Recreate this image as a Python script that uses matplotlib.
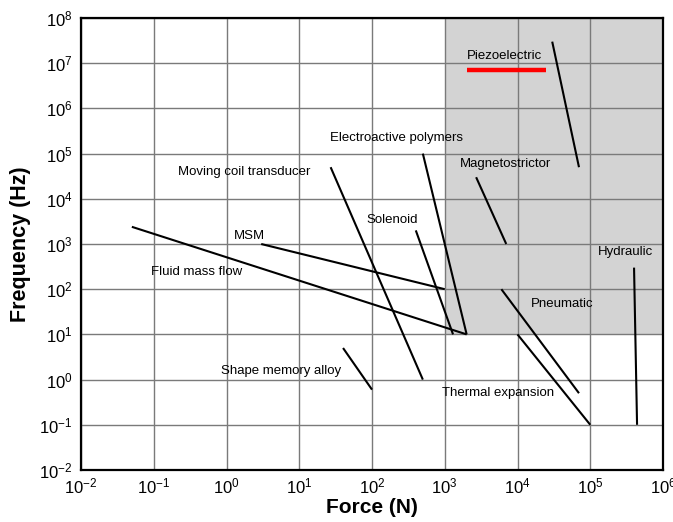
import numpy as np
import matplotlib
matplotlib.use('Agg')
import matplotlib.pyplot as plt

plt.rcParams['font.family'] = ['Liberation Sans', 'DejaVu Sans']
plt.rcParams['mathtext.default'] = 'regular'
plt.rcParams['axes.unicode_minus'] = False

# actuator ranges: force (N) and frequency (Hz) at both ends of each segment
actuators = ['Fluid mass flow', 'MSM', 'Moving coil transducer', 'Electroactive polymers',
             'Solenoid', 'Shape memory alloy', 'Piezoelectric', 'Magnetostrictor',
             'Hydraulic', 'Pneumatic', 'Thermal expansion']
force_start = [0.05, 3, 27, 500, 400, 40, 3e4, 2700, 4.0e5, 6000, 1e4]
force_end = [2000, 1000, 500, 2000, 1300, 100, 7e4, 7000, 4.4e5, 7e4, 1e5]
freq_start = [2400, 1000, 5e4, 1e5, 2000, 5, 3e7, 3e4, 300, 100, 10]
freq_end = [10, 100, 1, 10, 10, 0.6, 5e4, 1000, 0.1, 0.5, 0.1]

# red bar under the piezoelectric label
piezo_force = [2000, 2.5e4]
piezo_freq = [7e6, 7e6]

# shaded high-force / high-frequency zone
zone_force = [1e3, 1e6]
zone_freq = [10, 1e8]

# label anchor points (log10 force, log10 freq)
label_pos = {
    'Piezoelectric': (3.82, 7.17),
    'Electroactive polymers': (2.34, 5.34),
    'Moving coil transducer': (0.24, 4.60),
    'Magnetostrictor': (3.84, 4.76),
    'Solenoid': (2.28, 3.52),
    'MSM': (0.32, 3.18),
    'Fluid mass flow': (-0.41, 2.37),
    'Hydraulic': (5.49, 2.82),
    'Pneumatic': (4.61, 1.67),
    'Shape memory alloy': (0.75, 0.18),
    'Thermal expansion': (3.73, -0.30),
}

fig = plt.figure(figsize=(6.73, 5.22), dpi=100)
ax = fig.add_axes([81/673, 52/522, 582/673, 452/522])
ax.set_xscale('log')
ax.set_yscale('log')
ax.set_xlim(1e-2, 1e6)
ax.set_ylim(1e-2, 1e8)
ax.set_xticks([10.0**k for k in range(-2, 7)])
ax.set_yticks([10.0**k for k in range(-2, 9)])
ax.minorticks_off()

ax.set_axisbelow(True)
ax.fill_between(zone_force, zone_freq[0], zone_freq[1], color='#d3d3d3', lw=0, zorder=0.2)
ax.grid(True, color='#7a7a7a', lw=1.0)

for i in range(len(actuators)):
    ax.plot([force_start[i], force_end[i]], [freq_start[i], freq_end[i]],
            color='black', lw=1.5, solid_capstyle='butt', zorder=3)
ax.plot(piezo_force, piezo_freq, color='#ff0000', lw=3.2, solid_capstyle='butt', zorder=3)

for name, (lx, ly) in label_pos.items():
    ax.text(10**lx, 10**ly, name, fontsize=9.5, ha='center', va='center', zorder=4)

for s in ax.spines.values():
    s.set_linewidth(1.6)
ax.tick_params(length=0, labelsize=12)
ax.tick_params(axis='x', pad=5)
ax.tick_params(axis='y', pad=6)

ax.set_xlabel('Force (N)', fontsize=15, fontweight='bold', labelpad=1)
ax.set_ylabel('Frequency (Hz)', fontsize=15.5, fontweight='bold', labelpad=6)

plt.savefig('out.png', dpi=100)
